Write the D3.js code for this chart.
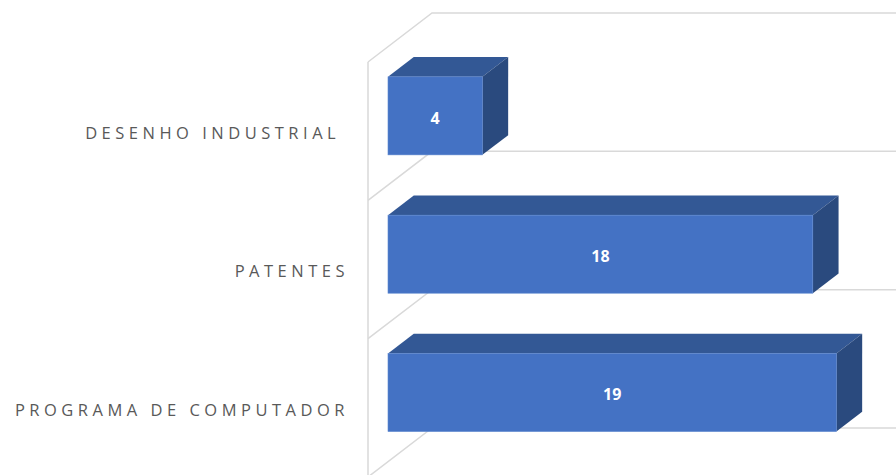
<!DOCTYPE html>
<html><head><meta charset="utf-8">
<script src="https://cdn.jsdelivr.net/npm/d3@7"></script>
<style>html,body{margin:0;padding:0;background:#fff;}svg{display:block;}</style>
</head><body>
<svg id="chart" width="896" height="475"></svg>
<script>
const categories = ["DESENHO INDUSTRIAL ", "PATENTES", "PROGRAMA DE COMPUTADOR"];
const values = [4, 18, 19];
const valueMax = 20;

const W = 896, H = 475;
const svg = d3.select("#chart");

const depthX = 64, depthY = -49;
const d0 = 0.3125, d1 = 0.715;

const x = d3.scaleLinear().domain([0, valueMax]).range([368, 368 + 23.6 * valueMax]);
const y = d3.scaleBand().domain(categories).range([62, 477]).paddingInner(0.436).paddingOuter(0.218);
const step = y.step();

const P = (px, py, d) => [px + depthX * d, py + depthY * d];

const grid = svg.append("g").attr("stroke", "#D9D9D9").attr("stroke-width", 1.5).attr("fill", "none");
const bounds = d3.range(categories.length + 1).map(i => y.range()[0] + i * step);
bounds.forEach(b => {
  const a = P(x(0), b, 0), c = P(x(0), b, 1), e = P(x(valueMax), b, 1);
  grid.append("path").attr("d", `M${a[0]},${a[1]}L${c[0]},${c[1]}L${e[0]},${e[1]}`);
});
grid.append("line").attr("x1", x(0)).attr("x2", x(0)).attr("y1", y.range()[0]).attr("y2", H + 10);

const cFront = "#4472C4", cTop = "#335895", cSide = "#2A4A7E";
const bars = svg.append("g");
categories.forEach((cat, i) => {
  const v = values[i];
  const yt = y(cat), yb = yt + y.bandwidth();
  const x0 = x(0), x1 = x(v);
  const f = (px, py, d) => P(px, py, d).join(",");
  bars.append("polygon").attr("fill", cTop)
    .attr("points", [f(x0, yt, d0), f(x1, yt, d0), f(x1, yt, d1), f(x0, yt, d1)].join(" "));
  bars.append("polygon").attr("fill", cSide)
    .attr("points", [f(x1, yt, d0), f(x1, yb, d0), f(x1, yb, d1), f(x1, yt, d1)].join(" "));
  const fr = P(x0, yt, d0);
  bars.append("rect").attr("x", fr[0]).attr("y", fr[1]).attr("width", x1 - x0).attr("height", yb - yt)
    .attr("fill", cFront).attr("stroke", "#5B86CF").attr("stroke-width", 0.6);
  bars.append("text").attr("x", fr[0] + (x1 - x0) / 2).attr("y", fr[1] + (yb - yt) / 2 + 2)
    .attr("dy", "0.36em").attr("text-anchor", "middle")
    .attr("fill", "#fff").attr("font-family", "'Open Sans', sans-serif").attr("font-weight", "bold")
    .attr("font-size", 16).text(v);
});

svg.append("g").selectAll("text").data(categories).join("text")
  .attr("x", 349).attr("y", d => y(d) + y.bandwidth() / 2 + 2)
  .attr("dy", "0.36em").attr("text-anchor", "end")
  .attr("fill", "#595959").attr("font-family", "'Open Sans', sans-serif").attr("font-size", 16.5)
  .attr("letter-spacing", "4.5px").style("white-space", "pre")
  .text(d => d);
</script>
</body></html>
